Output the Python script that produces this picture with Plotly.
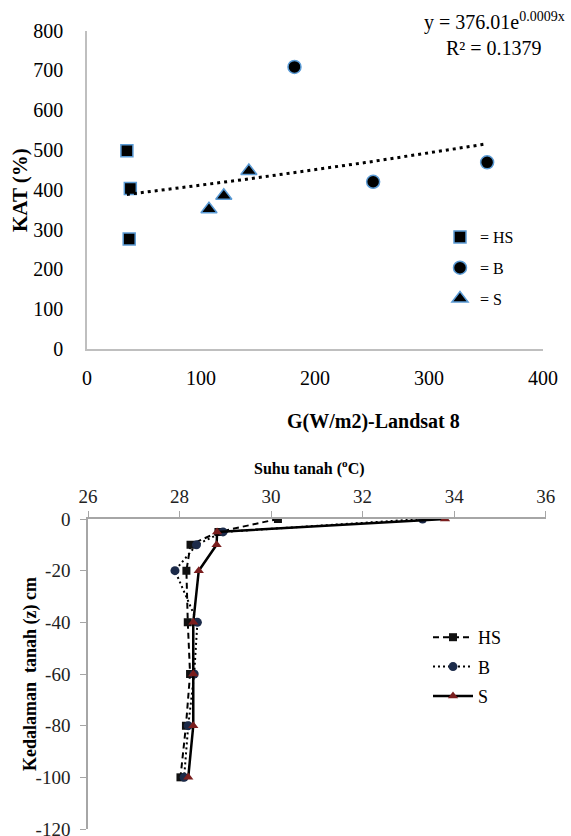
import numpy as np
import plotly.graph_objects as go

# ---------------- data: top chart (KAT vs G) ----------------
hs_g = [35, 38, 37]
hs_kat = [498, 403, 276]
b_g = [182, 251, 351]
b_kat = [709, 420, 469]
s_g = [107, 120, 142]
s_kat = [351, 385, 447]
trend_a = 376.01
trend_b = 0.0009
top_xticks = [0, 100, 200, 300, 400]
top_yticks = [0, 100, 200, 300, 400, 500, 600, 700, 800]

# ---------------- data: bottom chart (soil temperature profile) ----------------
depth = [0, -5, -10, -20, -40, -60, -80, -100]
hs_temp = [30.15, 28.85, 28.24, 28.15, 28.18, 28.23, 28.14, 28.02]
b_temp = [33.31, 28.95, 28.37, 27.90, 28.39, 28.32, 28.19, 28.10]
s_temp = [33.80, 28.82, 28.81, 28.42, 28.30, 28.30, 28.30, 28.19]
bot_xticks = [26, 28, 30, 32, 34, 36]
bot_yticks = [0, -20, -40, -60, -80, -100, -120]

SERIF = "Liberation Serif"
W, H = 571, 836

fig = go.Figure()

edge = dict(color="#5b9bd5", width=1.5)
fig.add_trace(go.Scatter(x=hs_g, y=hs_kat, mode="markers", name="= HS",
                         marker=dict(symbol="square", size=12, color="black", line=edge),
                         xaxis="x", yaxis="y", legend="legend2", legendgroup="a"))
fig.add_trace(go.Scatter(x=b_g, y=b_kat, mode="markers", name="= B",
                         marker=dict(symbol="circle", size=13, color="black", line=edge),
                         xaxis="x", yaxis="y", legend="legend2", legendgroup="b"))
fig.add_trace(go.Scatter(x=s_g, y=s_kat, mode="markers", name="= S",
                         marker=dict(symbol="triangle-up", size=14, color="black", line=edge),
                         xaxis="x", yaxis="y", legend="legend2", legendgroup="c"))

all_g = hs_g + b_g + s_g
tx = np.linspace(min(all_g), max(all_g), 60)
ty = trend_a * np.exp(trend_b * tx)
fig.add_trace(go.Scatter(x=tx, y=ty, mode="lines", showlegend=False,
                         line=dict(color="black", width=3, dash="3px,4px"),
                         xaxis="x", yaxis="y"))

# bottom chart
fig.add_trace(go.Scatter(x=hs_temp, y=depth, mode="lines+markers", name="HS",
                         line=dict(color="black", width=2, dash="6px,4px"),
                         marker=dict(symbol="square", size=8, color="#111111"),
                         xaxis="x2", yaxis="y2", legend="legend", legendgroup="d"))
fig.add_trace(go.Scatter(x=b_temp, y=depth, mode="lines+markers", name="B",
                         line=dict(color="black", width=2, dash="2px,3px"),
                         marker=dict(symbol="circle", size=9, color="#1c2b4a"),
                         xaxis="x2", yaxis="y2", legend="legend", legendgroup="e"))
fig.add_trace(go.Scatter(x=s_temp, y=depth, mode="lines+markers", name="S",
                         line=dict(color="black", width=2.5),
                         marker=dict(symbol="triangle-up", size=9, color="#7a1e1e"),
                         xaxis="x2", yaxis="y2", legend="legend", legendgroup="f"))

tick_font = dict(family=SERIF, size=20, color="black")
tick_font2 = dict(family=SERIF, size=19, color="#222222")

fig.update_layout(
    template="none",
    width=W, height=H,
    margin=dict(l=0, r=0, t=0, b=0, autoexpand=False),
    paper_bgcolor="white", plot_bgcolor="white",
    font=dict(family=SERIF, color="black"),
    xaxis=dict(domain=[87 / W, 543 / W], range=[0, 400], anchor="y", automargin=False,
               showgrid=False, zeroline=False, showline=True, linecolor="#bfbfbf",
               linewidth=1.5, tickvals=top_xticks, ticktext=[str(v) for v in top_xticks],
               tickfont=tick_font, ticks="", ticklabelstandoff=10,
               ticklabeloverflow="allow"),
    yaxis=dict(domain=[(H - 348.8) / H, (H - 30.7) / H], range=[0, 800], anchor="x",
               automargin=False,
               showgrid=False, zeroline=False, showline=True, linecolor="#bfbfbf",
               linewidth=1.5, tickvals=top_yticks, ticktext=[str(v) for v in top_yticks],
               tickfont=tick_font, ticks="", ticklabelstandoff=18,
               ticklabeloverflow="allow"),
    xaxis2=dict(domain=[88 / W, 545.7 / W], range=[26, 36], anchor="y2", side="top",
                automargin=False,
                showgrid=False, zeroline=False, showline=True, linecolor="#a6a6a6",
                linewidth=1.5, tickvals=bot_xticks, ticktext=[str(v) for v in bot_xticks],
                tickfont=tick_font2, ticks="outside", ticklen=6, tickcolor="#a6a6a6",
                ticklabelstandoff=1, ticklabeloverflow="allow"),
    yaxis2=dict(domain=[(H - 829) / H, (H - 519) / H], range=[-120, 0], anchor="x2",
                automargin=False,
                showgrid=False, zeroline=False, showline=True, linecolor="#a6a6a6",
                linewidth=1.5, tickvals=bot_yticks, ticktext=[str(v) for v in bot_yticks],
                tickfont=tick_font2, ticks="outside", ticklen=6, tickcolor="#a6a6a6",
                ticklabelstandoff=6, ticklabeloverflow="allow"),
    legend2=dict(x=440 / W, y=(H - 220) / H, xanchor="left", yanchor="top",
                 font=dict(family=SERIF, size=16, color="black"),
                 bgcolor="rgba(0,0,0,0)", traceorder="grouped", tracegroupgap=7),
    legend=dict(x=428 / W, y=(H - 619) / H, xanchor="left", yanchor="top",
                font=dict(family=SERIF, size=18, color="black"), itemwidth=40,
                bgcolor="rgba(0,0,0,0)", traceorder="grouped", tracegroupgap=3),
    showlegend=True,
)

ann = [
    dict(text="y = 376.01e<sup>0.0009x</sup>", x=494 / W, y=(H - 22) / H),
    dict(text="R² = 0.1379", x=494 / W, y=(H - 48) / H),
]
for a in ann:
    fig.add_annotation(xref="paper", yref="paper", x=a["x"], y=a["y"], text=a["text"],
                       showarrow=False, xanchor="center", yanchor="middle",
                       font=dict(family=SERIF, size=20, color="black"))

fig.add_annotation(xref="paper", yref="paper", x=20 / W, y=(H - 190) / H,
                   text="<b>KAT (%)</b>", textangle=-90, showarrow=False,
                   xanchor="center", yanchor="middle",
                   font=dict(family=SERIF, size=21, color="black"))
fig.add_annotation(xref="paper", yref="paper", x=285 / W, y=(H - 421) / H,
                   text="<b>G(W/m2)-Landsat 8</b>", showarrow=False,
                   xanchor="left", yanchor="middle",
                   font=dict(family=SERIF, size=20, color="black"))
fig.add_annotation(xref="paper", yref="paper", x=309 / W, y=(H - 467) / H,
                   text="<b>Suhu tanah (<sup>o</sup>C)</b>", showarrow=False,
                   xanchor="center", yanchor="middle",
                   font=dict(family=SERIF, size=16, color="black"))
fig.add_annotation(xref="paper", yref="paper", x=30 / W, y=(H - 674) / H,
                   text="<b>Kedalaman  tanah (z) cm</b>", textangle=-90, showarrow=False,
                   xanchor="center", yanchor="middle",
                   font=dict(family=SERIF, size=18, color="black"))

fig.write_html("out.html", config={"displayModeBar": False},
               post_script="document.body.style.margin='0px';document.body.style.overflow='hidden';")
